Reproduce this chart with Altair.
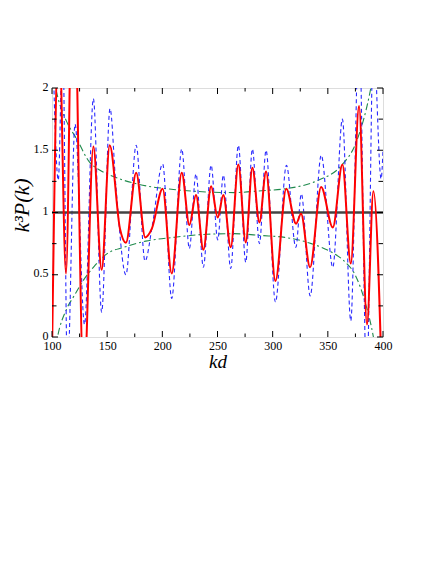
import altair as alt
import pandas as pd

# ---- data ----
red_kd = [100, 106.3, 112.7, 119, 128.8, 137.5, 145, 152.3, 161.6, 167, 176.3, 184.5, 190.5,
          200.3, 208.5, 217.6, 224.5, 230.5, 237.2, 244.2, 250.2, 255.3, 262, 268.9, 275.6,
          281.6, 288, 294, 302.5, 312.3, 321.2, 325.7, 333.9, 343.9, 354.5, 363.2, 370.8,
          378.3, 385.5, 391.3, 400]
red_val = [-0.15, 2.5, 0.51, 3.3, -0.4, 1.53, 0.54, 1.54, 0.87, 0.757, 1.32, 0.80, 0.87,
           1.19, 0.51, 1.32, 0.90, 1.14, 0.70, 1.21, 0.96, 1.14, 0.72, 1.385, 0.76,
           1.36, 0.92, 1.33, 0.45, 1.19, 0.91, 0.99, 0.56, 1.205, 0.88, 1.385, 0.59,
           1.855, 0.10, 1.17, -0.7]

blue_kd = [100, 105.7, 109.7, 114, 120.9, 129.5, 137.5, 145, 152.6, 158, 167, 176.3, 184.3,
           191, 200.3, 208.5, 217.6, 224.5, 230.5, 237.2, 244.2, 250.2, 255.3, 262, 268.9,
           275.6, 281.6, 288, 294, 302.5, 312.5, 321, 326, 334, 344, 354.5, 363.2, 370.8,
           378.3, 385.3, 391.3, 398.3, 400]
blue_val = [2.6, 1.26, 2.4, -0.3, 1.71, 0.1, 1.915, 0.2, 1.835, 1.2, 0.5, 1.54, 0.61,
            0.9, 1.39, 0.31, 1.51, 0.71, 1.31, 0.56, 1.38, 0.78, 1.30, 0.55, 1.54,
            0.60, 1.51, 0.75, 1.50, 0.28, 1.38, 0.72, 1.15, 0.33, 1.46, 0.56, 1.75, 0.13,
            2.5, -0.4, 2.4, 1.27, 1.5]

gup_kd = [101, 105.7, 113.3, 122.4, 134.4, 143.5, 152.6, 176.8, 210, 240, 265, 290, 311,
          341.4, 362.6, 376, 388.3, 392]
gup_val = [2.1, 1.91, 1.73, 1.59, 1.40, 1.34, 1.30, 1.23, 1.185, 1.165, 1.16, 1.175, 1.19,
           1.26, 1.38, 1.57, 1.97, 2.15]

glo_kd = [103, 105, 113, 120, 128, 137.5, 150, 165, 185, 210, 240, 265, 290, 311, 335,
          353.6, 366, 374.7, 383.8, 391.3, 395]
glo_val = [-0.1, 0.0, 0.22, 0.33, 0.45, 0.56, 0.67, 0.72, 0.77, 0.80, 0.825, 0.83, 0.815,
           0.80, 0.75, 0.68, 0.60, 0.50, 0.28, 0.0, -0.2]

x_major = [100, 150, 200, 250, 300, 350, 400]
x_minor = [125, 175, 225, 275, 325, 375]
y_major = [0, 0.5, 1, 1.5, 2]
y_minor = [0.25, 0.75, 1.25, 1.75]

W, H = 331, 249
SERIF = "Liberation Serif"

xs = alt.Scale(domain=[100, 400], nice=False, zero=False)
ys = alt.Scale(domain=[0, 2], nice=False, zero=False)

xaxis = alt.Axis(values=x_major, ticks=False, domain=False, grid=False,
                 labelFlush=False, labelOverlap=False,
                 labelFont=SERIF, labelFontSize=12, labelPadding=3, labelColor="black",
                 title="kd", titleFont=SERIF, titleFontSize=19, titleFontStyle="italic",
                 titleFontWeight="normal", titleColor="black", titleBaseline="alphabetic",
                 titleY=30, titleX=W / 2, titleAlign="center")
yaxis = alt.Axis(values=y_major, ticks=False, domain=False, grid=False, format=".1~f",
                 labelFlush=False, labelOverlap=False, labelOffset=-2,
                 labelFont=SERIF, labelFontSize=12, labelPadding=4, labelColor="black",
                 title="k³P(k)", titleFont=SERIF, titleFontSize=22, titleFontStyle="italic",
                 titleFontWeight="normal", titleColor="black", titleAngle=270,
                 titleBaseline="alphabetic", titleAlign="center", titleX=-24, titleY=117)


def X(f):
    return alt.X(f, type="quantitative", scale=xs, axis=xaxis)


def Y(f):
    return alt.Y(f, type="quantitative", scale=ys, axis=yaxis)


def line(kd, val, **style):
    df = pd.DataFrame({"kd": kd, "v": val})
    return alt.Chart(df).mark_line(clip=True, interpolate="monotone", **style).encode(
        x=X("kd"), y=Y("v"))


green_up = line(gup_kd, gup_val, color="#1f8a4c", strokeWidth=1.1, strokeDash=[7, 3, 2, 3])
green_lo = line(glo_kd, glo_val, color="#1f8a4c", strokeWidth=1.1, strokeDash=[7, 3, 2, 3])
blue = line(blue_kd, blue_val, color="#2a2aff", strokeWidth=1.1, strokeDash=[4, 3])
red = line(red_kd, red_val, color="#ff0000", strokeWidth=2)

hline = alt.Chart(pd.DataFrame({"v": [1]})).mark_rule(color="#444444", strokeWidth=2.5).encode(
    y=Y("v"))

xmaj = pd.DataFrame({"t": x_major})
xmin = pd.DataFrame({"t": x_minor})
ymaj = pd.DataFrame({"t": y_major})
ymin = pd.DataFrame({"t": y_minor})


def xticks(df, L):
    b = alt.Chart(df).mark_rule(color="black", strokeWidth=1).encode(
        x=X("t"), y=alt.value(H), y2=alt.value(H - L))
    t = alt.Chart(df).mark_rule(color="black", strokeWidth=1).encode(
        x=X("t"), y=alt.value(0), y2=alt.value(L))
    return [b, t]


def yticks(df, L):
    l = alt.Chart(df).mark_rule(color="black", strokeWidth=1).encode(
        y=Y("t"), x=alt.value(0), x2=alt.value(L))
    r = alt.Chart(df).mark_rule(color="black", strokeWidth=1).encode(
        y=Y("t"), x=alt.value(W), x2=alt.value(W - L))
    return [l, r]


layers = [green_up, green_lo, blue, hline, red]
layers += xticks(xmaj, 6) + xticks(xmin, 3.5) + yticks(ymaj, 6) + yticks(ymin, 4.5)

chart = alt.layer(*layers).properties(
    width=W, height=H,
    autosize=alt.AutoSizeParams(type="none"),
    padding={"left": 44, "top": 80, "right": 45, "bottom": 60},
).configure_view(stroke="black", strokeWidth=1.2).configure(background="white")

chart.save("out.html", embed_options={"renderer": "svg", "actions": False})
